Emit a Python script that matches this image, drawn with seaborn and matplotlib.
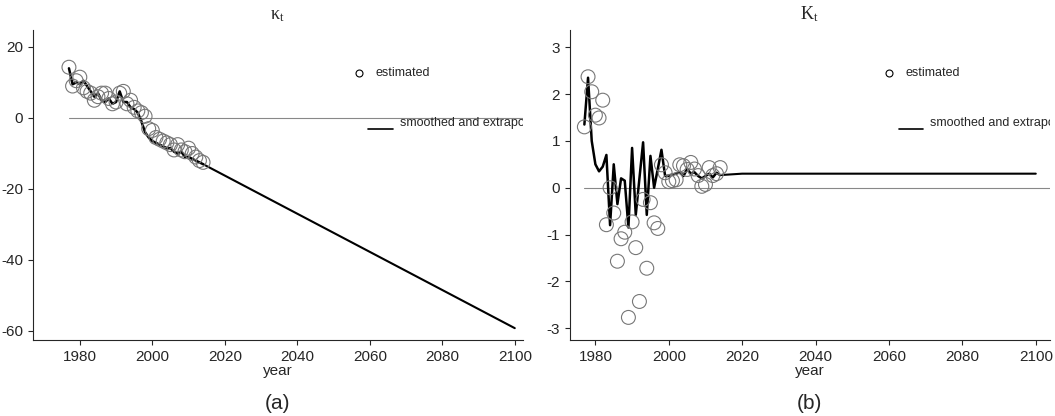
import numpy as np
import matplotlib
matplotlib.use("Agg")
import matplotlib.pyplot as plt
import seaborn as sns

sns.set_style("ticks")
plt.rcParams['font.family'] = ['Liberation Sans', 'DejaVu Sans']
plt.rcParams['axes.unicode_minus'] = False

years_est = list(range(1977, 2015))
kappa_est = [14.3, 9, 10.5, 11.5, 8.5, 7.5, 7, 5, 6, 7, 7, 5.5, 4, 4.5, 7, 7.5, 4, 5, 3, 2,
             1.5, 0.5, -3, -3.5, -5.5, -6, -6.5, -7, -7.5, -9, -7.5, -9, -9.5, -8.5, -10, -11, -12, -12.5]
kappa_smooth = [14, 9.5, 10, 9.5, 10.5, 9, 7.5, 6, 7, 5, 4.5, 5.5, 4, 4.5, 7.5, 4.5, 4.5, 3, 2.5, 1.5,
                -1, -4, -5.5, -6.5, -7, -7.5, -8, -8.5, -8.5, -9.5, -10, -9.5, -11, -11, -11.5, -12, -12.5, -13]
kappa_proj_years = [2014, 2100]
kappa_proj = [-13, -59.2]

K_est = [1.30, 2.37, 2.05, 1.55, 1.49, 1.87, -0.79, 0.0, -0.54, -1.57, -1.09, -0.95, -2.77, -0.73,
         -1.28, -2.43, -0.25, -1.72, -0.32, -0.75, -0.87, 0.49, 0.32, 0.13, 0.15, 0.17, 0.49, 0.47,
         0.39, 0.54, 0.40, 0.26, 0.03, 0.07, 0.43, 0.26, 0.30, 0.43]
K_smooth = [1.35, 2.35, 1.0, 0.5, 0.35, 0.45, 0.7, -0.8, 0.5, -0.35, 0.2, 0.15, -0.85, 0.85,
            -0.58, 0.2, 0.97, -0.58, 0.68, 0.0, 0.4, 0.81, 0.25, 0.25, 0.28, 0.3, 0.33, 0.25,
            0.4, 0.3, 0.33, 0.25, 0.2, 0.25, 0.3, 0.22, 0.32, 0.27]
K_proj_years = [2014, 2020, 2100]
K_proj = [0.27, 0.3, 0.3]

fig = plt.figure(figsize=(10.55, 4.16), dpi=100)
ax1 = fig.add_axes([0.031, 0.183, 0.4645, 0.745])
ax2 = fig.add_axes([0.540, 0.183, 0.455, 0.745])

panels = [
    (ax1, kappa_est, kappa_smooth, kappa_proj_years, kappa_proj, r"$\mathregular{\kappa_t}$",
     (1967, 2102.2), (-62.5, 24.8), [20, 0, -20, -40, -60], "(a)"),
    (ax2, K_est, K_smooth, K_proj_years, K_proj, r"$\mathregular{K_t}$",
     (1973, 2103.8), (-3.25, 3.37), [3, 2, 1, 0, -1, -2, -3], "(b)"),
]

for ax, est, smooth, py, pv, title, xl, yl, yt, cap in panels:
    ax.axhline(0, color="#888888", lw=0.8, xmin=(1977 - xl[0]) / (xl[1] - xl[0]))
    sns.lineplot(x=years_est, y=smooth, ax=ax, color="black", lw=1.8)
    sns.lineplot(x=py, y=pv, ax=ax, color="black", lw=1.5)
    sns.scatterplot(x=years_est, y=est, ax=ax, marker="o", s=100, facecolor="none",
                    edgecolor="#777777", linewidth=0.8, zorder=3)
    ax.set_xlim(*xl)
    ax.set_ylim(*yl)
    ax.set_yticks(yt)
    ax.set_xticks(range(1980, 2101, 20))
    ax.tick_params(labelsize=11)
    sns.despine(ax=ax)
    ax.set_title(title, family="Liberation Serif", fontsize=13, pad=8)
    ax.set_xlabel("year", fontsize=11, labelpad=0)
    ax.text(0.5, -0.205, cap, transform=ax.transAxes, ha="center", va="center", fontsize=15)
    # legend drawn inside the axes, clipped at the right edge like the reference
    ax.plot([0.665], [0.86], transform=ax.transAxes, marker="o", mfc="none", mec="black",
            ms=5, mew=0.8, clip_on=False)
    ax.text(0.70, 0.86, "estimated", transform=ax.transAxes, va="center", fontsize=9)
    ax.plot([0.685, 0.735], [0.68, 0.68], transform=ax.transAxes, color="black", lw=1.2)
    ax.text(0.75, 0.70, "smoothed and extrapolated", transform=ax.transAxes, va="center",
            fontsize=9, clip_on=True)

fig.savefig("out.png", dpi=100)
